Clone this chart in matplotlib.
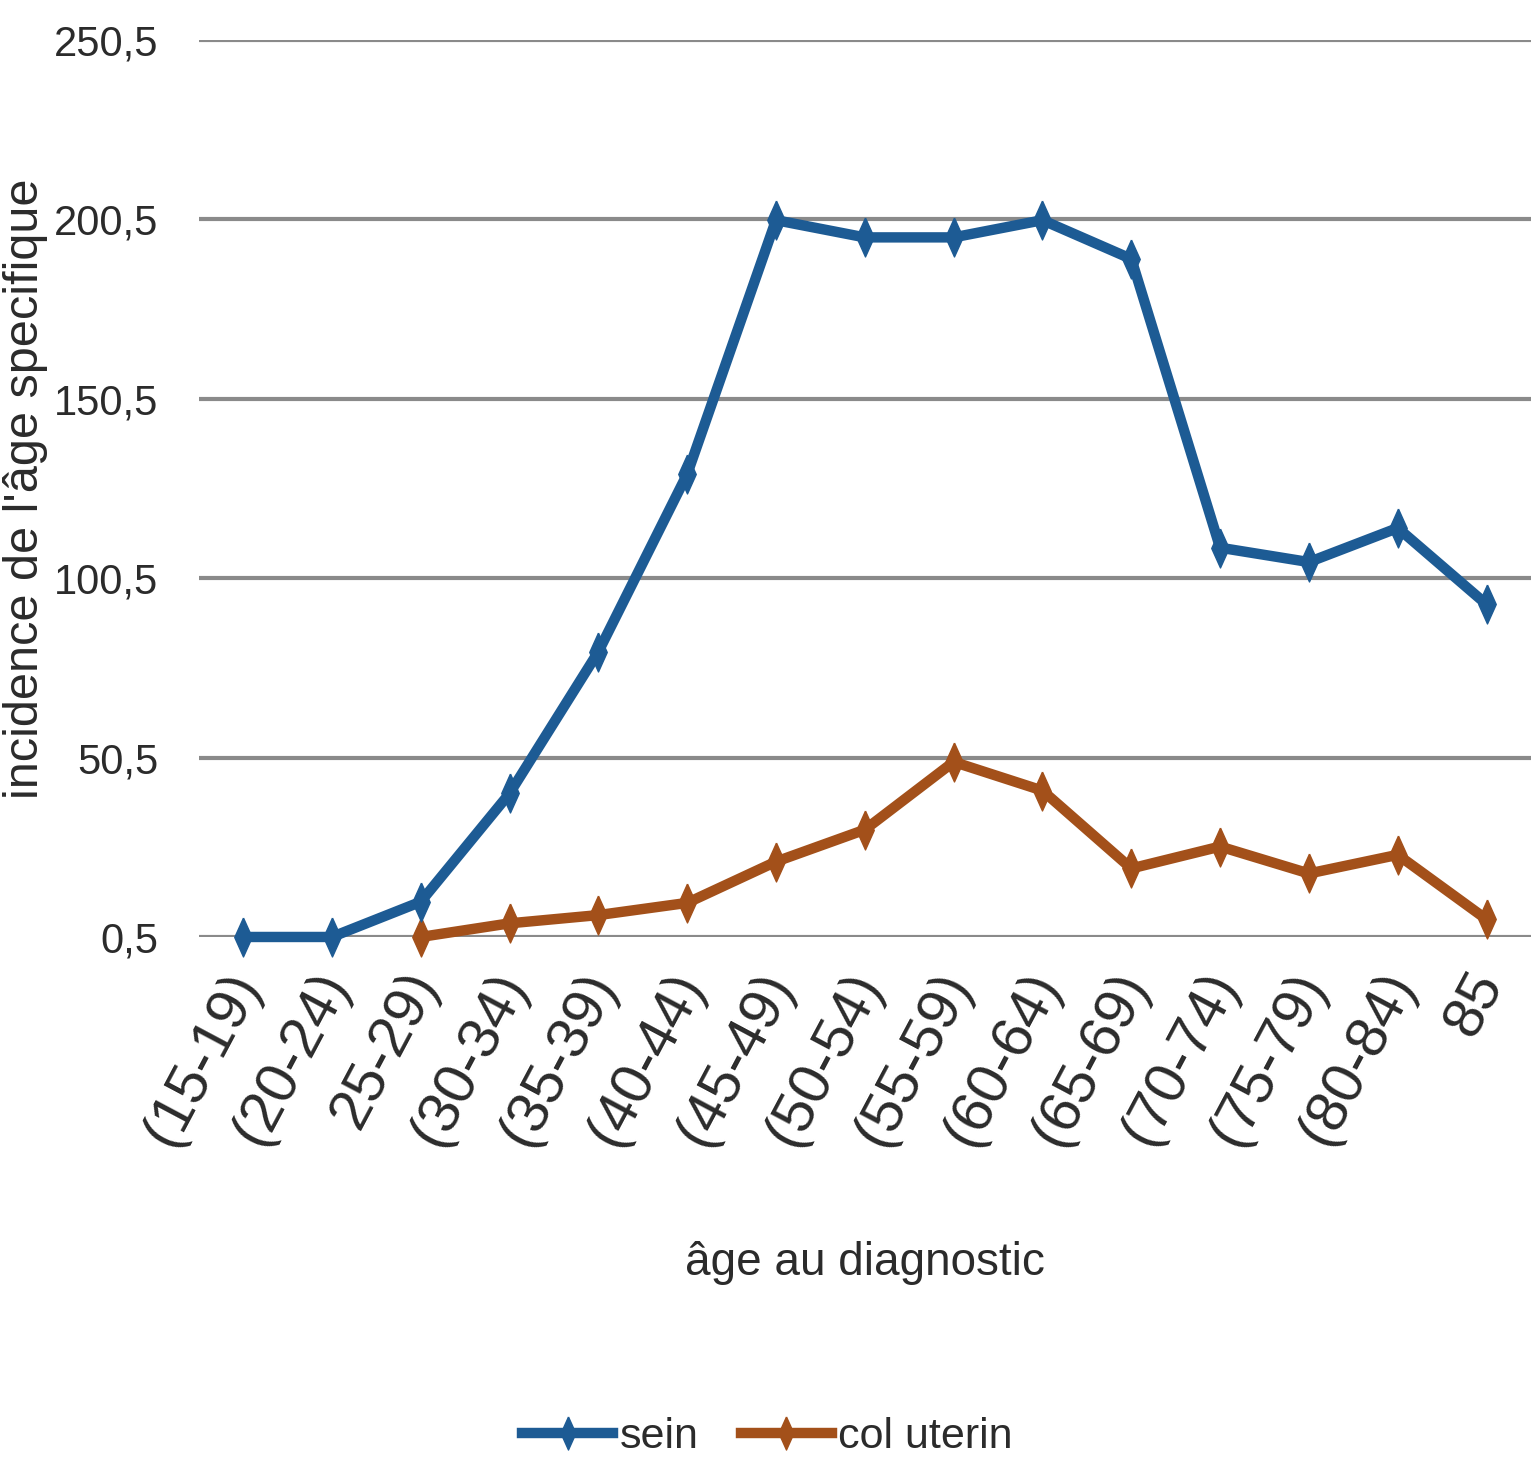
import matplotlib
matplotlib.use("Agg")
import matplotlib.pyplot as plt
from matplotlib.transforms import ScaledTranslation

age_groups = ["(15-19)", "(20-24)", "25-29)", "(30-34)", "(35-39)", "(40-44)",
              "(45-49)", "(50-54)", "(55-59)", "(60-64)", "(65-69)", "(70-74)",
              "(75-79)", "(80-84)", "85"]
sein = [0.5, 0.5, 10.3, 40.5, 80, 129.5, 200.3, 195.5, 195.5, 200.3, 189.5,
        109, 105, 114.5, 93.2]
# col uterin starts at the 25-29 group
col_uterin = [0.5, 4.3, 6.6, 10, 21.5, 30.4, 49.3, 41.3, 19.6, 25.7, 18.2, 23.4, 5.4]
y_ticks = [0.5, 50.5, 100.5, 150.5, 200.5, 250.5]
y_tick_labels = ["0,5", "50,5", "100,5", "150,5", "200,5", "250,5"]

BLUE = "#1d5b94"
BROWN = "#a3501a"
GRID = "#8a8a8a"
TEXT = "#2b2b2b"
FONT = ["Liberation Sans", "DejaVu Sans"]

# tall, thin diamond used for the point markers
DIAMOND = [(0, 1), (0.45, 0), (0, -1), (-0.45, 0), (0, 1)]

fig = plt.figure(figsize=(15.35, 14.73), dpi=100)
ax = fig.add_axes([0.1294, 0.3639, 0.868, 0.6089])

x_all = list(range(len(age_groups)))
x_col = x_all[len(age_groups) - len(col_uterin):]

ax.plot(x_all, sein, color=BLUE, lw=7.5, marker=DIAMOND, ms=28,
        solid_joinstyle="round", label="sein", clip_on=False, zorder=4)
ax.plot(x_col, col_uterin, color=BROWN, lw=7.5, marker=DIAMOND, ms=28,
        solid_joinstyle="round", label="col uterin", clip_on=False, zorder=3)

ax.set_xlim(-0.5, 14.5)
ax.set_ylim(0.5, 250.5)
ax.set_yticks(y_ticks)
ax.set_yticklabels(y_tick_labels, family=FONT, fontsize=30, color=TEXT)
ax.yaxis.grid(True, color=GRID, lw=3.0)
ax.set_axisbelow(True)
ax.tick_params(axis="y", length=0, pad=29)
ax.tick_params(axis="x", length=0, pad=28)

ax.set_xticks(x_all)
ax.set_xticklabels(age_groups, family=FONT, fontsize=42, color=TEXT,
                   rotation=62, ha="right", va="center", rotation_mode="anchor")
shift = ScaledTranslation(3 / 72, 0, fig.dpi_scale_trans)
for lbl in ax.get_xticklabels():
    lbl.set_transform(lbl.get_transform() + shift)

for side in ["top", "right", "bottom", "left"]:
    ax.spines[side].set_visible(False)

ax.set_xlabel("âge au diagnostic", family=FONT, fontsize=33, color=TEXT,
              labelpad=62)
fig.text(0.0165, 0.3639 + 0.6089 / 2, "incidence de l'âge specifique",
         rotation=90, ha="center", va="center", fontsize=35, color=TEXT,
         family=FONT)

fig.legend(loc="center", bbox_to_anchor=(0.5, 0.0244), ncol=2,
           frameon=False, prop={"family": FONT, "size": 31},
           handlelength=2.1, handletextpad=0.15, columnspacing=1.0,
           markerscale=0.85, labelcolor=TEXT)

fig.savefig("out.png", dpi=100, facecolor="white")
